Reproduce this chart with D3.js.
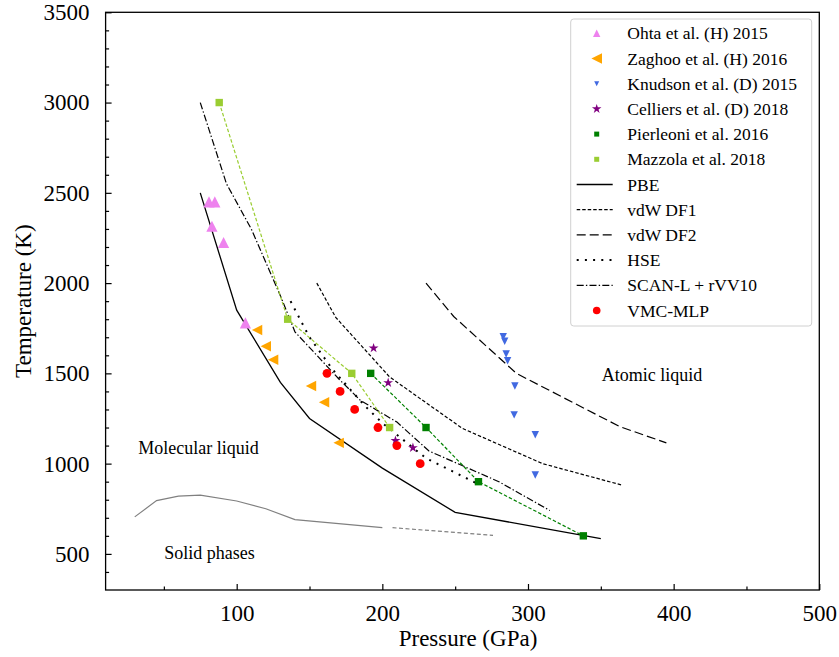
<!DOCTYPE html>
<html>
<head>
<meta charset="utf-8">
<script src="https://cdn.jsdelivr.net/npm/d3@7"></script>
<style>
  body { margin: 0; background: #fff; }
  text { font-family: "Liberation Serif", "Times New Roman", serif; }
</style>
</head>
<body>
<script>

// canvas and plot area
var canvasX = 839;
var canvasY = 657;
var plotLeft = 105.6;
var plotRight = 819.3;
var plotTop = 12.3;
var plotBottom = 590;

// tick values
var xMajor = [100, 200, 300, 400, 500];
var xMinor = [50, 150, 250, 350, 450];
var yMajor = [500, 1000, 1500, 2000, 2500, 3000, 3500];
var yMinor = [400, 600, 700, 800, 900, 1100, 1200, 1300, 1400, 1600, 1700, 1800, 1900,
              2100, 2200, 2300, 2400, 2600, 2700, 2800, 2900, 3100, 3200, 3300, 3400];

// experiments and simulations, [pressure, temperature]
var ohta = [[81, 2450], [85, 2450], [83, 2315], [91, 2225], [106, 1780]];
var zaghoo = [[114, 1740], [120, 1650], [125, 1575], [151, 1430], [160, 1340], [170, 1115]];
var knudson = [[283, 1703], [284, 1678], [285, 1607], [286, 1570], [291, 1430],
               [290.5, 1270], [305, 1160], [305, 937]];
var celliers = [[194, 1640], [204, 1448], [209, 1127], [221, 1088]];
var pierleoni = [[192, 1500], [230, 1200], [266, 900], [338, 600]];
var mazzola = [[88, 3000], [135, 1800], [179, 1500], [205, 1200]];
var vmc = [[162, 1500], [171, 1400], [181, 1300], [197, 1200], [210, 1100], [226, 1000]];

// functional curves
var pbe = [[75, 2500], [100, 1850], [130, 1450], [150, 1250], [200, 975], [250, 730], [350, 585]];
var df1 = [[155, 2000], [168, 1810], [205, 1480], [255, 1195], [310, 1000], [365, 880]];
var df2 = [[230, 2000], [249, 1815], [292, 1500], [363, 1205], [395, 1115]];
var hse = [[137, 1900], [150, 1700], [166, 1520], [188, 1320], [200, 1225], [230, 1030], [265, 890]];
var scan = [[75, 3000], [93, 2550], [110, 2300], [130, 1930], [140, 1730], [170, 1470],
            [185, 1350], [210, 1230], [232, 1070], [280, 900], [315, 740]];

// solid phase boundary
var solid = [[30, 705], [45, 795], [60, 820], [75, 825], [100, 793], [120, 750], [140, 690], [200, 645]];
var solidDashed = [[207, 645], [276, 603]];

// region labels
var regionNames = ["Molecular liquid", "Solid phases", "Atomic liquid"];
var regionSpots = [[32.4, 1053], [50.3, 472], [350.6, 1458]];

var legendNames = ["Ohta et al. (H) 2015", "Zaghoo et al. (H) 2016", "Knudson et al. (D) 2015",
                   "Celliers et al. (D) 2018", "Pierleoni et al. 2016", "Mazzola et al. 2018",
                   "PBE", "vdW DF1", "vdW DF2", "HSE", "SCAN-L + rVV10", "VMC-MLP"];

var svg;

window.onload = function() {

    svg = d3.select("body")
            .append("svg")
            .attr("width", canvasX)
            .attr("height", canvasY);

    var scaleX = d3.scaleLinear().domain([10, 500]).range([plotLeft, plotRight]);
    var scaleY = d3.scaleLinear().domain([300, 3500]).range([plotBottom, plotTop]);

    drawAxes(scaleX, scaleY);
    drawLines(scaleX, scaleY);
    drawMarkers(scaleX, scaleY);
    drawLabels(scaleX, scaleY);
    drawLegend();
};

// marker shapes, s is half the size
function markerPath(kind, s) {
    if (kind == "up") return "M0," + (-s) + "L" + (-s) + "," + s + "L" + s + "," + s + "Z";
    if (kind == "left") return "M" + (-s) + ",0L" + s + "," + (-s) + "L" + s + "," + s + "Z";
    if (kind == "down") return "M0," + s + "L" + (-s) + "," + (-s) + "L" + s + "," + (-s) + "Z";
    if (kind == "square") return "M" + (-s) + "," + (-s) + "h" + (2 * s) + "v" + (2 * s) + "h" + (-2 * s) + "Z";
    if (kind == "star") {
        var pts = [];
        for (var i = 0; i < 10; i++) {
            var r = i % 2 == 0 ? s : s * 0.382;
            var a = -Math.PI / 2 + i * Math.PI / 5;
            pts.push([r * Math.cos(a), r * Math.sin(a)]);
        }
        return "M" + pts.join("L") + "Z";
    }
    return "";
}

function drawAxes(scaleX, scaleY) {

    // minor ticks
    svg.append("g")
       .attr("transform", "translate(0," + plotBottom + ")")
       .call(d3.axisBottom(scaleX).tickValues(xMinor).tickSize(-3.5).tickFormat(""));
    svg.append("g")
       .attr("transform", "translate(" + plotLeft + ",0)")
       .call(d3.axisLeft(scaleY).tickValues(yMinor).tickSize(-3.5).tickFormat(""));

    // major ticks with labels
    svg.append("g")
       .attr("class", "xaxis")
       .attr("transform", "translate(0," + plotBottom + ")")
       .call(d3.axisBottom(scaleX).tickValues(xMajor).tickFormat(d3.format("d"))
               .tickSizeInner(-6).tickSizeOuter(0).tickPadding(15));
    svg.append("g")
       .attr("class", "yaxis")
       .attr("transform", "translate(" + plotLeft + ",0)")
       .call(d3.axisLeft(scaleY).tickValues(yMajor).tickFormat(d3.format("d"))
               .tickSizeInner(-6).tickSizeOuter(0).tickPadding(16));

    svg.selectAll(".domain").remove();
    svg.selectAll(".tick line").attr("stroke", "#000").attr("stroke-width", 1.2);
    svg.selectAll(".tick text")
       .style("font-family", "Liberation Serif")
       .style("font-size", "23px")
       .attr("fill", "#000");

    // frame
    svg.append("rect")
       .attr("x", plotLeft)
       .attr("y", plotTop)
       .attr("width", plotRight - plotLeft)
       .attr("height", plotBottom - plotTop)
       .attr("fill", "none")
       .attr("stroke", "#000")
       .attr("stroke-width", 1.3);

    // axis titles
    svg.append("text")
       .attr("x", 468)
       .attr("y", 646)
       .attr("text-anchor", "middle")
       .style("font-size", "23px")
       .text("Pressure (GPa)");
    svg.append("text")
       .attr("transform", "translate(31," + ((plotTop + plotBottom) / 2) + ") rotate(-90)")
       .attr("text-anchor", "middle")
       .style("font-size", "23px")
       .text("Temperature (K)");
}

function drawLines(scaleX, scaleY) {

    var line = d3.line()
                 .x(function(d) { return scaleX(d[0]); })
                 .y(function(d) { return scaleY(d[1]); });

    var curves = [
        [solid, "#808080", 1.2, null],
        [solidDashed, "#808080", 1.2, "4,2.5"],
        [pbe, "#000", 1.3, null],
        [df1, "#000", 1.2, "3.5,2"],
        [df2, "#000", 1.2, "9,4"],
        [hse, "#000", 2, "2,6.2"],
        [scan, "#000", 1.2, "7,2.2,1.4,2.2"],
        [pierleoni, "#008000", 1.2, "3.5,2"],
        [mazzola, "#9acd32", 1.2, "3.5,2"]
    ];

    curves.forEach(function(c) {
        svg.append("path")
           .datum(c[0])
           .attr("d", line)
           .attr("fill", "none")
           .attr("stroke", c[1])
           .attr("stroke-width", c[2])
           .attr("stroke-dasharray", c[3]);
    });
}

function drawMarkers(scaleX, scaleY) {

    var sets = [
        [ohta, "up", 5.6, "#ee82ee"],
        [zaghoo, "left", 5.2, "#ffa500"],
        [knudson, "down", 3.7, "#4169e1"],
        [celliers, "star", 5.2, "#800080"],
        [pierleoni, "square", 3.7, "#008000"],
        [mazzola, "square", 3.7, "#9acd32"]
    ];

    sets.forEach(function(s) {
        svg.append("g")
           .selectAll("path")
           .data(s[0])
           .enter()
           .append("path")
           .attr("transform", function(d) {
               return "translate(" + scaleX(d[0]) + "," + scaleY(d[1]) + ")";
           })
           .attr("d", markerPath(s[1], s[2]))
           .attr("fill", s[3]);
    });

    svg.append("g")
       .selectAll("circle")
       .data(vmc)
       .enter()
       .append("circle")
       .attr("cx", function(d) { return scaleX(d[0]); })
       .attr("cy", function(d) { return scaleY(d[1]); })
       .attr("r", 4.4)
       .attr("fill", "#ff0000");
}

function drawLabels(scaleX, scaleY) {
    svg.selectAll(".region")
       .data(regionNames)
       .enter()
       .append("text")
       .attr("class", "region")
       .attr("x", function(d, i) { return scaleX(regionSpots[i][0]); })
       .attr("y", function(d, i) { return scaleY(regionSpots[i][1]); })
       .style("font-size", "18px")
       .text(function(d) { return d; });
}

function drawLegend() {

    // box
    svg.append("rect")
       .attr("x", 570.7)
       .attr("y", 19)
       .attr("width", 241)
       .attr("height", 307)
       .attr("rx", 3)
       .attr("fill", "#fff")
       .attr("fill-opacity", 0.8)
       .attr("stroke", "#d0d0d0")
       .attr("stroke-width", 1);

    var entries = [
        ["marker", "up", 3.7, "#ee82ee"],
        ["marker", "left", 5.3, "#ffa500"],
        ["marker", "down", 2.5, "#4169e1"],
        ["marker", "star", 5, "#800080"],
        ["marker", "square", 2.5, "#008000"],
        ["marker", "square", 2.5, "#9acd32"],
        ["line", null, 1.3, null],
        ["line", "3.5,2", 1.2, null],
        ["line", "9,4", 1.2, null],
        ["line", "2,6.2", 2, null],
        ["line", "7,2.2,1.4,2.2", 1.2, null],
        ["circle", null, 3.8, "#ff0000"]
    ];

    var rows = svg.selectAll(".legend")
                  .data(legendNames)
                  .enter()
                  .append("g")
                  .attr("class", "legend")
                  .attr("transform", function(d, i) { return "translate(0," + (33.3 + i * 25.2) + ")"; });

    rows.each(function(d, i) {
        var g = d3.select(this);
        var e = entries[i];
        if (e[0] == "marker") {
            g.append("path")
             .attr("transform", "translate(596.7,0)")
             .attr("d", markerPath(e[1], e[2]))
             .attr("fill", e[3]);
        } else if (e[0] == "line") {
            g.append("line")
             .attr("x1", 576.7)
             .attr("x2", 612.7)
             .attr("stroke", "#000")
             .attr("stroke-width", e[2])
             .attr("stroke-dasharray", e[1]);
        } else {
            g.append("circle")
             .attr("cx", 596.7)
             .attr("r", e[2])
             .attr("fill", e[3]);
        }
        g.append("text")
         .attr("x", 627.3)
         .attr("y", 6)
         .style("font-size", "17.5px")
         .text(d);
    });
}
</script>
</body>
</html>
